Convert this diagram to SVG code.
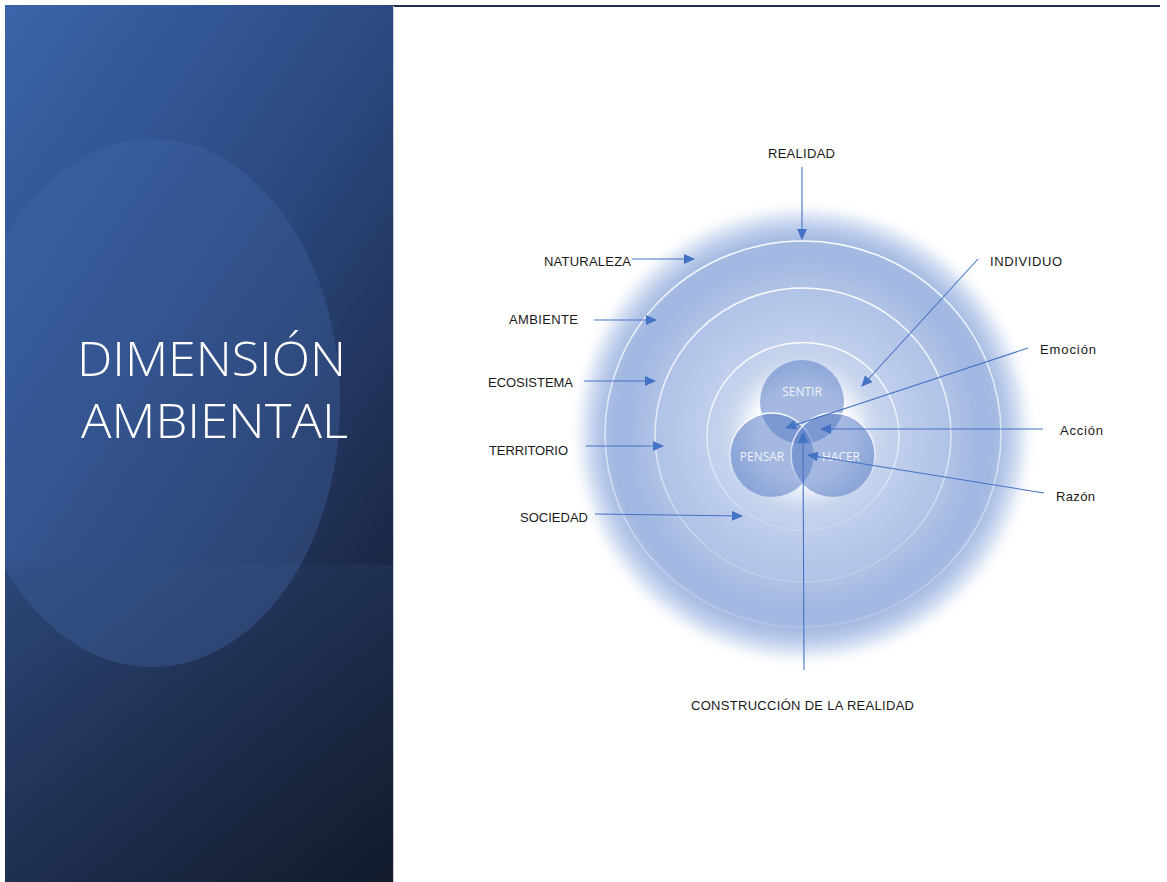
<svg xmlns="http://www.w3.org/2000/svg" width="1167" height="882" viewBox="0 0 1167 882">
<defs>
<linearGradient id="upperGrad" x1="0" y1="0" x2="1" y2="1">
<stop offset="0" stop-color="#3b64aa"/>
<stop offset="0.5" stop-color="#2c4a82"/>
<stop offset="1" stop-color="#1b2744"/>
</linearGradient>
<linearGradient id="lowerGrad" x1="0" y1="0" x2="1" y2="1">
<stop offset="0" stop-color="#2c4778"/>
<stop offset="0.5" stop-color="#1f2f50"/>
<stop offset="1" stop-color="#121a2b"/>
</linearGradient>
<linearGradient id="ellGrad" x1="0" y1="0" x2="0.6" y2="1">
<stop offset="0" stop-color="#4a72b8" stop-opacity="0.2"/>
<stop offset="1" stop-color="#4468aa" stop-opacity="0.35"/>
</linearGradient>
<clipPath id="panelClip">
<rect x="5" y="5" width="388" height="877"/>
</clipPath>
<filter id="soft" x="-20%" y="-20%" width="140%" height="140%">
<feGaussianBlur stdDeviation="5"/>
</filter>
<radialGradient id="glow" gradientUnits="userSpaceOnUse" cx="803" cy="434" r="232">
<stop offset="0" stop-color="#ffffff"/>
<stop offset="0.2" stop-color="#ffffff"/>
<stop offset="0.32" stop-color="#c8d5ee"/>
<stop offset="0.5" stop-color="#b8c9e9"/>
<stop offset="0.65" stop-color="#afc2e6"/>
<stop offset="0.76" stop-color="#a1b7e1"/>
<stop offset="0.84" stop-color="#a4b9e2"/>
<stop offset="0.9" stop-color="#bfcfec"/>
<stop offset="0.95" stop-color="#e3eaf7"/>
<stop offset="1" stop-color="#ffffff" stop-opacity="0"/>
</radialGradient>
<linearGradient id="ringStroke" x1="0" y1="0" x2="0" y2="1">
<stop offset="0" stop-color="#ffffff" stop-opacity="0.95"/>
<stop offset="0.55" stop-color="#ffffff" stop-opacity="0.55"/>
<stop offset="1" stop-color="#ffffff" stop-opacity="0.15"/>
</linearGradient>
<linearGradient id="vennStroke" x1="0" y1="0" x2="0" y2="1">
<stop offset="0" stop-color="#ffffff" stop-opacity="0.95"/>
<stop offset="0.6" stop-color="#ffffff" stop-opacity="0.5"/>
<stop offset="1" stop-color="#ffffff" stop-opacity="0"/>
</linearGradient>
<marker id="arr" markerUnits="userSpaceOnUse" markerWidth="12" markerHeight="10" refX="10" refY="5" orient="auto">
<path d="M0,0 L11,5 L0,10 Z" fill="#4472c4"/>
</marker>
<style>
.lbl{font-family:"Liberation Sans",Arial,sans-serif;font-size:13px;fill:#1a1a1a;}
.vt{font-family:"Open Sans","Liberation Sans",sans-serif;font-size:12px;fill:#ffffff;fill-opacity:0.85;text-anchor:middle;}
.ring{fill:none;stroke:url(#ringStroke);stroke-width:1.6;}
.venn{fill:#5a7dc6;fill-opacity:0.55;}
.conn line{stroke:#4472c4;stroke-width:1.1;marker-end:url(#arr);}
.title{font-family:"Open Sans","Liberation Sans",sans-serif;font-weight:300;font-size:48px;fill:#ffffff;}
</style>
</defs>
<rect x="0" y="0" width="1167" height="882" fill="#ffffff"/>
<g id="left-panel">
<rect x="5" y="5" width="388" height="560" fill="url(#upperGrad)"/>
<rect x="5" y="565" width="388" height="317" fill="url(#lowerGrad)"/>
<g clip-path="url(#panelClip)">
<ellipse cx="152" cy="403" rx="188" ry="264" fill="url(#ellGrad)"/>
</g>
<text class="title" x="77" y="376" textLength="269" lengthAdjust="spacingAndGlyphs">DIMENSIÓN</text>
<text class="title" x="81" y="438" textLength="267" lengthAdjust="spacingAndGlyphs">AMBIENTAL</text>
</g>
<line x1="393" y1="6" x2="1160" y2="6" stroke="#1f2f52" stroke-width="2"/>
<line x1="393.5" y1="6" x2="393.5" y2="882" stroke="#c8ccd4" stroke-width="1"/>
<g id="glow-bg">
<circle cx="803" cy="434" r="232" fill="url(#glow)" filter="url(#soft)"/>
</g>
<g id="rings">
<ellipse class="ring" cx="803" cy="434" rx="198" ry="193"/>
<ellipse class="ring" cx="803" cy="435" rx="148" ry="147"/>
<ellipse class="ring" cx="803" cy="436.5" rx="96" ry="94"/>
</g>
<g id="sentir">
<circle class="venn" cx="802" cy="402" r="42"/>
<text class="vt" x="802" y="396">SENTIR</text>
</g>
<g id="pensar">
<circle class="venn" cx="772" cy="455" r="42" stroke="url(#vennStroke)" stroke-width="1.6"/>
<text class="vt" x="762" y="461">PENSAR</text>
</g>
<g id="hacer">
<circle class="venn" cx="833" cy="455" r="42" stroke="url(#vennStroke)" stroke-width="1.6"/>
<text class="vt" x="841" y="461">HACER</text>
</g>
<g id="labels">
<text class="lbl" x="768" y="158" textLength="67">REALIDAD</text>
<text class="lbl" x="544" y="266" textLength="87">NATURALEZA</text>
<text class="lbl" x="509" y="324" textLength="69">AMBIENTE</text>
<text class="lbl" x="488" y="387" textLength="85">ECOSISTEMA</text>
<text class="lbl" x="489" y="455" textLength="79">TERRITORIO</text>
<text class="lbl" x="520" y="522" textLength="68">SOCIEDAD</text>
<text class="lbl" x="990" y="266" textLength="72">INDIVIDUO</text>
<text class="lbl" x="1040" y="354" textLength="56">Emoción</text>
<text class="lbl" x="1060" y="435" textLength="43">Acción</text>
<text class="lbl" x="1056" y="501" textLength="39">Razón</text>
<text class="lbl" x="691" y="710" textLength="223">CONSTRUCCIÓN DE LA REALIDAD</text>
</g>
<g id="connectors" class="conn">
<line x1="802" y1="167" x2="802" y2="239"/>
<line x1="632" y1="259" x2="694" y2="259"/>
<line x1="594" y1="320" x2="656" y2="320"/>
<line x1="584" y1="381" x2="655" y2="381"/>
<line x1="586" y1="446" x2="663" y2="446"/>
<line x1="595" y1="514" x2="742" y2="516"/>
<line x1="978" y1="259" x2="862" y2="386"/>
<line x1="1028" y1="348" x2="786" y2="428"/>
<line x1="1043" y1="429" x2="821" y2="429"/>
<line x1="1044" y1="493" x2="808" y2="455"/>
<line x1="804" y1="670" x2="803" y2="433"/>
</g>
</svg>
